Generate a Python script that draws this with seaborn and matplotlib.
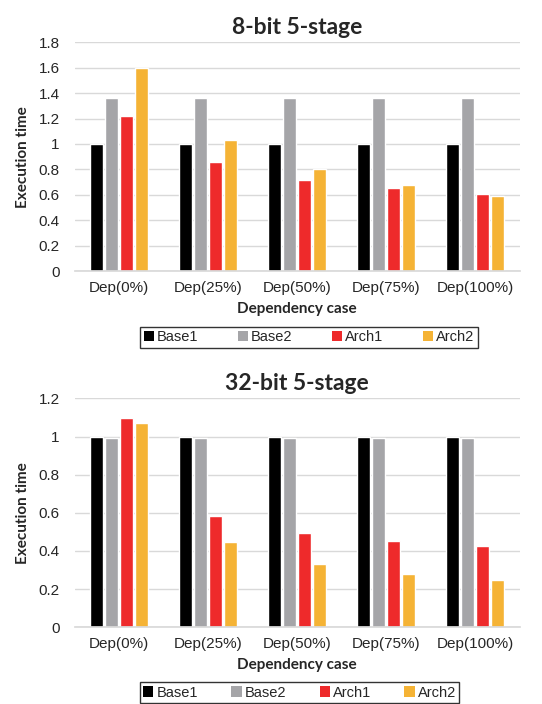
import matplotlib
matplotlib.use("Agg")
import matplotlib.pyplot as plt
import seaborn as sns
import pandas as pd
from matplotlib.patches import Patch

categories = ["Dep(0%)", "Dep(25%)", "Dep(50%)", "Dep(75%)", "Dep(100%)"]
series = ["Base1", "Base2", "Arch1", "Arch2"]

top_base1 = [1.0, 1.0, 1.0, 1.0, 1.0]
top_base2 = [1.365, 1.365, 1.365, 1.365, 1.365]
top_arch1 = [1.22, 0.855, 0.72, 0.655, 0.61]
top_arch2 = [1.60, 1.03, 0.80, 0.675, 0.59]

bot_base1 = [1.0, 1.0, 1.0, 1.0, 1.0]
bot_base2 = [0.995, 0.995, 0.995, 0.995, 0.995]
bot_arch1 = [1.095, 0.585, 0.495, 0.45, 0.425]
bot_arch2 = [1.07, 0.445, 0.33, 0.28, 0.247]

colors = ["#000000", "#A5A5A8", "#EE2A2B", "#F5B335"]

sns.set_theme(style="white")
plt.rcParams["font.family"] = ["Liberation Sans", "DejaVu Sans"]
REG = ["Liberation Sans", "DejaVu Sans"]
BOLD = ["Lato", "Liberation Sans", "DejaVu Sans"]


def make_df(vals):
    rows = []
    for s, v in zip(series, vals):
        for c, y in zip(categories, v):
            rows.append({"case": c, "series": s, "value": y})
    return pd.DataFrame(rows)


fig = plt.figure(figsize=(5.42, 7.04), dpi=100)
ax1 = fig.add_axes([0.138, 0.615, 0.821, 0.325])
ax2 = fig.add_axes([0.138, 0.109, 0.821, 0.325])

specs = [
    (ax1, make_df([top_base1, top_base2, top_arch1, top_arch2]), "8-bit 5-stage",
     1.8, [0, 0.2, 0.4, 0.6, 0.8, 1, 1.2, 1.4, 1.6, 1.8],
     ["0", "0.2", "0.4", "0.6", "0.8", "1", "1.2", "1.4", "1.6", "1.8"],
     (0.570, 0.5206), "center", 2.7),
    (ax2, make_df([bot_base1, bot_base2, bot_arch1, bot_arch2]), "32-bit 5-stage",
     1.2, [0, 0.2, 0.4, 0.6, 0.8, 1, 1.2],
     ["0", "0.2", "0.4", "0.6", "0.8", "1", "1.2"],
     (0.5526, 0.0313), "upper center", 2.3),
]

for ax, df, title, ymax, yt, ytl, lpos, lloc, cs in specs:
    sns.barplot(data=df, x="case", y="value", hue="series", palette=colors,
                hue_order=series, order=categories, width=0.675, gap=0.15,
                ax=ax, legend=False, saturation=1)
    ax.set_ylim(0, ymax)
    ax.set_xlim(-0.5, 4.5)
    ax.set_yticks(yt)
    ax.set_yticklabels(ytl, fontsize=11, family=REG)
    ax.set_xticks(range(len(categories)))
    ax.set_xticklabels(categories, fontsize=11, family=REG)
    ax.tick_params(axis="x", length=0, pad=7)
    ax.tick_params(axis="y", length=0, pad=11)
    ax.grid(axis="y", color="#D9D9D9", linewidth=1.0)
    ax.set_axisbelow(True)
    for sp in ["top", "right", "left"]:
        ax.spines[sp].set_visible(False)
    ax.spines["bottom"].set_color("#D9D9D9")
    ax.set_title(title, fontsize=16.5, fontweight="bold", pad=6, family=BOLD)
    ax.set_ylabel("Execution time", fontsize=11, fontweight="bold", labelpad=6, family=BOLD)
    ax.set_xlabel("Dependency case", fontsize=11, fontweight="bold", labelpad=5, family=BOLD)

    handles = [Patch(facecolor=c, edgecolor="none") for c in colors]
    leg = fig.legend(handles, series, loc=lloc, bbox_to_anchor=lpos,
                     ncol=4, frameon=True, fancybox=False,
                     prop={"family": REG, "size": 10.5},
                     handlelength=0.7, handleheight=0.7, handletextpad=0.2,
                     columnspacing=cs, borderpad=0.25, borderaxespad=0)
    leg.get_frame().set_edgecolor("#000000")
    leg.get_frame().set_linewidth(1.0)

fig.savefig("out.png", dpi=100)
